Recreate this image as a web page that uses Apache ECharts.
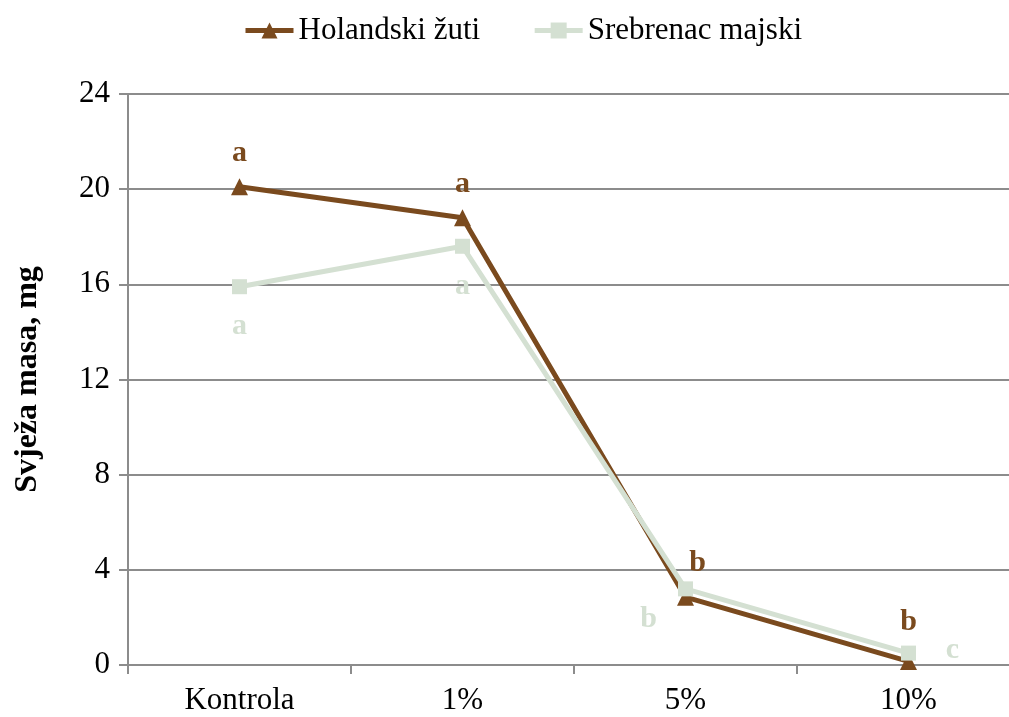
<!DOCTYPE html>
<html><head><meta charset="utf-8">
<script src="https://cdn.jsdelivr.net/npm/echarts@6/dist/echarts.min.js"></script>
<style>html,body{margin:0;padding:0;background:#fff;overflow:hidden}#c{width:1009px;height:717px}</style>
</head><body><div id="c"></div>
<script>
const categories = ['Kontrola', '1%', '5%', '10%'];
const holandski = [20.1, 18.8, 2.85, 0.15];
const srebrenac = [15.9, 17.6, 3.2, 0.5];
const holandskiLetters = ['a', 'a', 'b', 'b'];
const srebrenacLetters = ['a', 'a', 'b', 'c'];
const yTicks = [0, 4, 8, 12, 16, 20, 24];

const BROWN = '#7a4a1e';
const GREEN = '#d4e0d2';
const FONT = '"Liberation Serif", "Times New Roman", serif';

const hOff = [[0, -34], [0, -33], [12, -34], [0, -39]];
const sOff = [[0, 40], [0, 40], [-37, 30], [44, -3]];

function build(vals, letters, offs, color) {
  return vals.map((v, i) => ({
    value: v,
    label: {
      show: true, formatter: letters[i], position: 'inside',
      offset: offs[i], color: color, fontFamily: FONT, fontWeight: 'bold', fontSize: 30
    }
  }));
}

const chart = echarts.init(document.getElementById('c'), null, {renderer: 'canvas'});
chart.setOption({
  animation: false,
  textStyle: {fontFamily: FONT},
  legend: {
    top: 10, left: 238, itemWidth: 48, itemHeight: 20, itemGap: 52,
    lineStyle: {width: 5},
    textStyle: {fontFamily: FONT, fontSize: 31, color: '#000'},
    data: ['Holandski žuti', 'Srebrenac majski']
  },
  grid: {left: 128, width: 892, top: 94, bottom: 52, outerBoundsMode: 'none', containLabel: false},
  xAxis: {
    type: 'category', data: categories, boundaryGap: true,
    axisLine: {lineStyle: {color: '#8c8c8c', width: 2}},
    axisTick: {show: true, length: 9, lineStyle: {color: '#8c8c8c', width: 2}},
    axisLabel: {fontFamily: FONT, fontSize: 31, color: '#000', margin: 20}
  },
  yAxis: {
    type: 'value', min: yTicks[0], max: yTicks[yTicks.length - 1], interval: 4,
    name: 'Svježa masa, mg', nameLocation: 'middle', nameGap: 84, nameRotate: 90,
    nameTextStyle: {fontFamily: FONT, fontSize: 32, fontWeight: 'bold', color: '#000'},
    axisLine: {show: true, lineStyle: {color: '#8c8c8c', width: 2}},
    axisTick: {show: true, length: 9, lineStyle: {color: '#8c8c8c', width: 2}},
    axisLabel: {fontFamily: FONT, fontSize: 31, color: '#000', margin: 18},
    splitLine: {lineStyle: {color: '#8c8c8c', width: 2}}
  },
  series: [
    {
      name: 'Holandski žuti', type: 'line', data: build(holandski, holandskiLetters, hOff, BROWN),
      symbol: 'triangle', symbolSize: 17, z: 3,
      lineStyle: {color: BROWN, width: 5}, itemStyle: {color: BROWN}
    },
    {
      name: 'Srebrenac majski', type: 'line', data: build(srebrenac, srebrenacLetters, sOff, GREEN),
      symbol: 'rect', symbolSize: 15, z: 4,
      lineStyle: {color: GREEN, width: 5}, itemStyle: {color: GREEN}
    }
  ]
});
</script></body></html>
